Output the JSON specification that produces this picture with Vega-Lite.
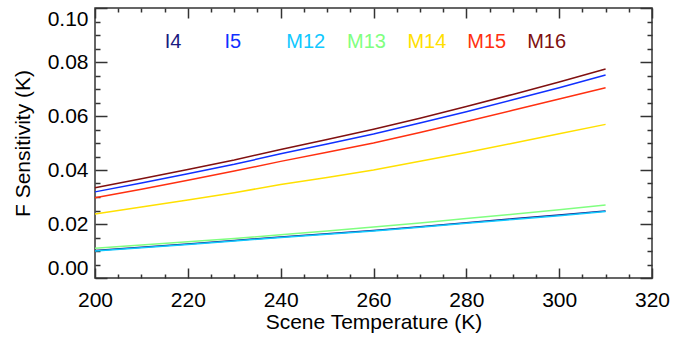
{
  "$schema": "https://vega.github.io/schema/vega-lite/v6.json",
  "width": 557,
  "height": 270,
  "autosize": {"type": "none"},
  "padding": {"left": 95, "top": 8, "right": 45, "bottom": 61},
  "background": "white",
  "config": {
    "view": {"stroke": "#333333", "strokeWidth": 1.5},
    "font": "Liberation Sans",
    "axis": {"domain": false, "grid": false, "tickColor": "#333333", "tickWidth": 1.5, "labelColor": "black", "titleColor": "black", "labelFont": "Liberation Sans", "titleFont": "Liberation Sans", "labelFontSize": 21, "titleFontSize": 21, "titleFontWeight": "normal"}
  },
  "datasets": {
    "curves": [
      {"band":"I4","T":200,"v":0.0102},{"band":"I4","T":210,"v":0.0114},{"band":"I4","T":220,"v":0.0126},{"band":"I4","T":230,"v":0.0139},{"band":"I4","T":240,"v":0.0152},{"band":"I4","T":250,"v":0.0164},{"band":"I4","T":260,"v":0.0176},{"band":"I4","T":270,"v":0.0190},{"band":"I4","T":280,"v":0.0205},{"band":"I4","T":290,"v":0.0219},{"band":"I4","T":300,"v":0.0233},{"band":"I4","T":310,"v":0.0248},
      {"band":"I5","T":200,"v":0.0319},{"band":"I5","T":210,"v":0.0352},{"band":"I5","T":220,"v":0.0386},{"band":"I5","T":230,"v":0.0421},{"band":"I5","T":240,"v":0.0460},{"band":"I5","T":250,"v":0.0496},{"band":"I5","T":260,"v":0.0533},{"band":"I5","T":270,"v":0.0574},{"band":"I5","T":280,"v":0.0616},{"band":"I5","T":290,"v":0.0660},{"band":"I5","T":300,"v":0.0705},{"band":"I5","T":310,"v":0.0752},
      {"band":"M12","T":200,"v":0.0100},{"band":"M12","T":210,"v":0.0112},{"band":"M12","T":220,"v":0.0124},{"band":"M12","T":230,"v":0.0137},{"band":"M12","T":240,"v":0.0150},{"band":"M12","T":250,"v":0.0162},{"band":"M12","T":260,"v":0.0174},{"band":"M12","T":270,"v":0.0188},{"band":"M12","T":280,"v":0.0203},{"band":"M12","T":290,"v":0.0217},{"band":"M12","T":300,"v":0.0231},{"band":"M12","T":310,"v":0.0246},
      {"band":"M13","T":200,"v":0.0110},{"band":"M13","T":210,"v":0.0122},{"band":"M13","T":220,"v":0.0134},{"band":"M13","T":230,"v":0.0146},{"band":"M13","T":240,"v":0.0160},{"band":"M13","T":250,"v":0.0174},{"band":"M13","T":260,"v":0.0189},{"band":"M13","T":270,"v":0.0204},{"band":"M13","T":280,"v":0.0220},{"band":"M13","T":290,"v":0.0236},{"band":"M13","T":300,"v":0.0253},{"band":"M13","T":310,"v":0.0270},
      {"band":"M14","T":200,"v":0.0237},{"band":"M14","T":210,"v":0.0263},{"band":"M14","T":220,"v":0.0289},{"band":"M14","T":230,"v":0.0316},{"band":"M14","T":240,"v":0.0346},{"band":"M14","T":250,"v":0.0372},{"band":"M14","T":260,"v":0.0400},{"band":"M14","T":270,"v":0.0432},{"band":"M14","T":280,"v":0.0465},{"band":"M14","T":290,"v":0.0499},{"band":"M14","T":300,"v":0.0534},{"band":"M14","T":310,"v":0.0569},
      {"band":"M15","T":200,"v":0.0297},{"band":"M15","T":210,"v":0.0329},{"band":"M15","T":220,"v":0.0362},{"band":"M15","T":230,"v":0.0396},{"band":"M15","T":240,"v":0.0432},{"band":"M15","T":250,"v":0.0466},{"band":"M15","T":260,"v":0.0500},{"band":"M15","T":270,"v":0.0539},{"band":"M15","T":280,"v":0.0580},{"band":"M15","T":290,"v":0.0621},{"band":"M15","T":300,"v":0.0663},{"band":"M15","T":310,"v":0.0705},
      {"band":"M16","T":200,"v":0.0334},{"band":"M16","T":210,"v":0.0368},{"band":"M16","T":220,"v":0.0402},{"band":"M16","T":230,"v":0.0437},{"band":"M16","T":240,"v":0.0476},{"band":"M16","T":250,"v":0.0513},{"band":"M16","T":260,"v":0.0551},{"band":"M16","T":270,"v":0.0592},{"band":"M16","T":280,"v":0.0635},{"band":"M16","T":290,"v":0.0680},{"band":"M16","T":300,"v":0.0726},{"band":"M16","T":310,"v":0.0774}
    ],
    "labels": [
      {"band":"I4","T":216.8,"v":0.0875},
      {"band":"I5","T":229.7,"v":0.0875},
      {"band":"M12","T":245.4,"v":0.0875},
      {"band":"M13","T":258.5,"v":0.0875},
      {"band":"M14","T":271.5,"v":0.0875},
      {"band":"M15","T":284.4,"v":0.0875},
      {"band":"M16","T":297.3,"v":0.0875}
    ]
  },
  "resolve": {"axis": {"x": "independent", "y": "independent"}},
  "layer": [
    {
      "data": {"name": "curves"},
      "mark": {"type": "line", "strokeWidth": 1.5, "opacity": 0},
      "encoding": {
        "x": {"field": "T", "type": "quantitative", "scale": {"domain": [200, 320], "nice": false, "zero": false},
              "axis": {"orient": "bottom", "values": [205,210,215,225,230,235,245,250,255,265,270,275,285,290,295,305,310,315], "labels": false, "title": null, "tickSize": -4}},
        "y": {"field": "v", "type": "quantitative", "scale": {"domain": [0, 0.1], "nice": false, "zero": false},
              "axis": {"orient": "left", "values": [0.005,0.01,0.015,0.025,0.03,0.035,0.045,0.05,0.055,0.065,0.07,0.075,0.085,0.09,0.095], "labels": false, "title": null, "tickSize": -5}},
        "detail": {"field": "band"}
      }
    },
    {
      "data": {"name": "curves"},
      "mark": {"type": "line", "strokeWidth": 1.5, "opacity": 0},
      "encoding": {
        "x": {"field": "T", "type": "quantitative",
              "axis": {"orient": "top", "values": [205,210,215,225,230,235,245,250,255,265,270,275,285,290,295,305,310,315], "labels": false, "title": null, "tickSize": -4}},
        "y": {"field": "v", "type": "quantitative",
              "axis": {"orient": "right", "values": [0.005,0.01,0.015,0.025,0.03,0.035,0.045,0.05,0.055,0.065,0.07,0.075,0.085,0.09,0.095], "labels": false, "title": null, "tickSize": -5}},
        "detail": {"field": "band"}
      }
    },
    {
      "data": {"name": "labels"},
      "mark": {"type": "text", "fontSize": 20, "font": "Liberation Sans", "align": "center", "baseline": "middle"},
      "encoding": {
        "x": {"field": "T", "type": "quantitative",
              "axis": {"orient": "top", "values": [200,220,240,260,280,300,320], "labels": false, "title": null, "tickSize": -10}},
        "y": {"field": "v", "type": "quantitative",
              "axis": {"orient": "right", "values": [0,0.02,0.04,0.06,0.08,0.1], "labels": false, "title": null, "tickSize": -12}},
        "text": {"field": "band"},
        "color": {"field": "band", "type": "nominal", "legend": null}
      }
    },
    {
      "data": {"name": "curves"},
      "mark": {"type": "line", "strokeWidth": 1.5},
      "encoding": {
        "x": {"field": "T", "type": "quantitative",
              "axis": {"orient": "bottom", "values": [200,220,240,260,280,300,320], "labelFlush": false, "title": "Scene Temperature (K)", "tickSize": -10, "labelPadding": 21, "titlePadding": 1}},
        "y": {"field": "v", "type": "quantitative",
              "axis": {"orient": "left", "values": [0,0.02,0.04,0.06,0.08,0.1], "format": ".2f", "labelFlush": true, "title": "F Sensitivity (K)", "tickSize": -12, "labelPadding": 19, "titlePadding": 14}},
        "color": {"field": "band", "type": "nominal", "legend": null,
                  "scale": {"domain": ["I4","I5","M12","M13","M14","M15","M16"], "range": ["#1a1a80","#1030ff","#10c8ff","#80ff80","#ffe000","#ff3010","#801010"]}}
      }
    }
  ]
}
